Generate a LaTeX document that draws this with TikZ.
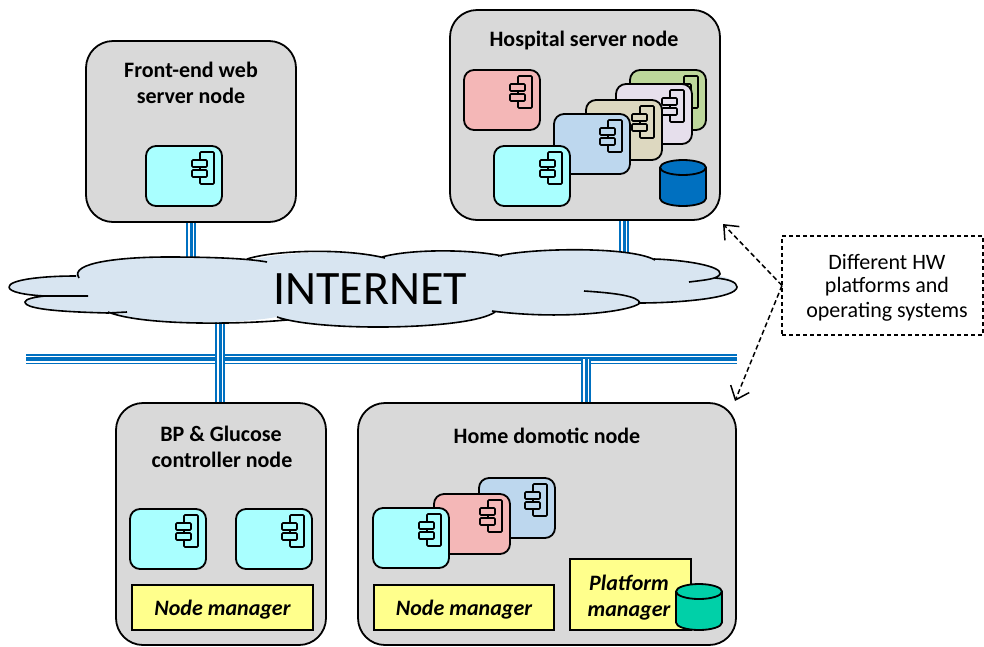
\documentclass[tikz,border=0pt]{standalone}
\usepackage{fontspec}
\setmainfont{Carlito}
\usetikzlibrary{arrows.meta}
\pgfdeclarelayer{edgelayer}
\pgfdeclarelayer{nodelayer}
\pgfsetlayers{edgelayer,nodelayer,main}
\definecolor{nodegray}{HTML}{D9D9D9}
\definecolor{compcyan}{HTML}{A9FFFF}
\definecolor{compred}{HTML}{F4B7B7}
\definecolor{compblue}{HTML}{BDD7EE}
\definecolor{comptan}{HTML}{DDD8C0}
\definecolor{complilac}{HTML}{E6DFEC}
\definecolor{compgreen}{HTML}{BDD79B}
\definecolor{cloudblue}{HTML}{D8E5F1}
\definecolor{wireblue}{HTML}{0070C0}
\definecolor{mgryellow}{HTML}{FFFF8C}
\definecolor{dbteal}{HTML}{00D0A8}
\tikzstyle{none}=[inner sep=0pt,outer sep=0pt]
\tikzstyle{title}=[none,font=\fontsize{22}{24}\selectfont\bfseries]
\tikzstyle{note}=[none,font=\fontsize{22}{24}\selectfont]
\tikzstyle{hwnode}=[anchor=north west,draw=black,fill=nodegray,line width=1.8pt,rounded corners=27pt,outer sep=0pt,inner sep=0pt]
\tikzstyle{comp}=[anchor=north west,draw=black,line width=1.8pt,rounded corners=10pt,minimum width=76pt,minimum height=60pt,outer sep=0pt,inner sep=0pt]
\tikzstyle{manager}=[anchor=north west,draw=black,fill=mgryellow,line width=1.8pt,outer sep=0pt,inner sep=0pt,text depth=0pt,font=\fontsize{22}{26}\selectfont\bfseries\itshape,align=center]
\tikzstyle{store}=[none,anchor=north west,minimum width=46pt,minimum height=46pt]
\tikzstyle{iconpart}=[draw=black,line width=1.6pt,rounded corners=1pt]
\tikzstyle{storepart}=[draw=black,line width=1.8pt]
\tikzstyle{buswire}=[draw=wireblue,line width=10.5pt,postaction={draw=white,line width=7pt},postaction={draw=wireblue,line width=4pt}]
\tikzstyle{linkwire}=[draw=wireblue,line width=10pt,postaction={draw=white,line width=6.5pt},postaction={draw=wireblue,line width=3pt}]
\tikzstyle{pointer}=[dash pattern=on 5pt off 3pt,draw=black,line width=1.5pt,-{Straight Barb[length=12pt,width=20pt,line width=1.5pt]}]
\newcommand{\compicon}[2]{
	\begin{scope}[shift={(#1.north west)}]
		\draw [style=iconpart, fill=#2] (54, 6) rectangle (68, 38);
		\draw [style=iconpart, fill=#2] (46, 14) rectangle (61, 21);
		\draw [style=iconpart, fill=#2] (46, 24) rectangle (61, 31);
	\end{scope}
}
\newcommand{\storeshape}[2]{
	\begin{scope}[shift={(#1.north west)}]
		\draw [style=storepart, fill=#2] (0, 7.5) -- (0, 38.5) arc[start angle=180, end angle=360, x radius=23pt, y radius=7.5pt] -- (46, 7.5) arc[start angle=0, end angle=180, x radius=23pt, y radius=7.5pt] -- cycle;
		\draw [style=storepart] (0, 7.5) arc[start angle=180, end angle=360, x radius=23pt, y radius=7.5pt];
	\end{scope}
}
\begin{document}
\begin{tikzpicture}[x=1pt,y=-1pt]
	\useasboundingbox (0, 0) rectangle (984, 646);
	\begin{pgfonlayer}{nodelayer}
		\node [style=hwnode, minimum width=210pt, minimum height=181pt] (front) at (86, 41) {};
		\node [style=hwnode, minimum width=270pt, minimum height=210pt] (hospital) at (450, 10) {};
		\node [style=hwnode, minimum width=210pt, minimum height=242pt] (bpnode) at (116, 403) {};
		\node [style=hwnode, minimum width=378pt, minimum height=242pt] (home) at (358, 403) {};
		\node [style=title] (fronta) at (191, 70) {Front-end web};
		\node [style=title] (frontb) at (191, 96) {server node};
		\node [style=title] (hosptitle) at (584, 41) {Hospital server node};
		\node [style=title] (bpa) at (221, 434) {BP \& Glucose};
		\node [style=title] (bpb) at (222, 460) {controller node};
		\node [style=title] (hometitle) at (547, 436) {Home domotic node};
		\node [style=comp, fill=compcyan] (frontcomp) at (146, 146) {};
		\compicon{frontcomp}{compcyan}
		\node [style=comp, fill=compred] (hospred) at (464, 70) {};
		\compicon{hospred}{compred}
		\node [style=comp, fill=compgreen] (hospgreen) at (630, 70) {};
		\compicon{hospgreen}{compgreen}
		\node [style=comp, fill=complilac] (hosplilac) at (616, 84) {};
		\compicon{hosplilac}{complilac}
		\node [style=comp, fill=comptan] (hosptan) at (586, 100) {};
		\compicon{hosptan}{comptan}
		\node [style=comp, fill=compblue] (hospblue) at (554, 114) {};
		\compicon{hospblue}{compblue}
		\node [style=comp, fill=compcyan] (hospcyan) at (494, 146) {};
		\compicon{hospcyan}{compcyan}
		\node [style=store] (hospdb) at (660, 160) {};
		\storeshape{hospdb}{wireblue}
		\node [style=comp, fill=compcyan] (bpleft) at (130, 509) {};
		\compicon{bpleft}{compcyan}
		\node [style=comp, fill=compcyan] (bpright) at (236, 509) {};
		\compicon{bpright}{compcyan}
		\node [style=manager, minimum width=181pt, minimum height=45pt] (bpmgr) at (132, 585) {Node manager};
		\node [style=comp, fill=compblue] (homeblue) at (479, 478) {};
		\compicon{homeblue}{compblue}
		\node [style=comp, fill=compred] (homered) at (434, 494) {};
		\compicon{homered}{compred}
		\node [style=comp, fill=compcyan] (homecyan) at (373, 508) {};
		\compicon{homecyan}{compcyan}
		\node [style=manager, minimum width=180pt, minimum height=45pt] (homemgr) at (374, 585) {Node manager};
		\node [style=manager, minimum width=121pt, minimum height=71pt] (platform) at (570, 559) {};
		\node [style=none, font=\fontsize{22}{26}\selectfont\bfseries\itshape, align=center] (platformtext) at (629, 598) {Platform\\manager};
		\node [style=store] (homedb) at (676, 584) {};
		\storeshape{homedb}{dbteal}
		% cloud
		\coordinate (cloudfront) at (192, 257);
		\coordinate (cloudhosp) at (624, 252);
		\coordinate (cloudbp) at (220, 322);
		\fill [cloudblue] (9, 287) .. controls (9, 280) and (40, 276) .. (76, 276) .. controls (72, 262) and (125, 257) .. (167, 257) .. controls (200, 257) and (235, 258) .. (252, 260) .. controls (275, 253) and (345, 248) .. (383, 257) .. controls (410, 249) and (470, 249) .. (500, 256) .. controls (530, 248) and (630, 246) .. (655, 260) .. controls (685, 260) and (722, 266) .. (720, 276) .. controls (730, 278) and (737, 282) .. (737, 287) .. controls (737, 298) and (680, 303) .. (638, 303) .. controls (630, 312) and (560, 320) .. (493, 312) .. controls (470, 330) and (320, 332) .. (277, 317) .. controls (230, 325) and (140, 325) .. (108, 312) .. controls (70, 312) and (25, 310) .. (25, 302) .. controls (25, 299) and (35, 297) .. (45, 296) .. controls (25, 295) and (9, 292) .. (9, 287) -- cycle;
		\draw [black, line width=1.6pt] (9, 287) .. controls (9, 280) and (40, 276) .. (76, 276) (79, 278) .. controls (68, 262) and (125, 257) .. (167, 257) .. controls (205, 257) and (245, 258) .. (267, 262) (247, 259) .. controls (275, 250) and (345, 248) .. (385, 258) (382, 257) .. controls (410, 249) and (470, 249) .. (502, 256) (498, 256) .. controls (530, 248) and (630, 246) .. (655, 260) (654, 259) .. controls (685, 260) and (722, 266) .. (720, 274) .. controls (718, 279) and (705, 280) .. (689, 282) (715, 278) .. controls (728, 279) and (737, 282) .. (737, 287) .. controls (737, 298) and (680, 303) .. (638, 303) (584, 291) .. controls (615, 293) and (638, 296) .. (640, 303) .. controls (630, 312) and (560, 320) .. (492, 311) (495, 312) .. controls (470, 330) and (320, 332) .. (277, 317) (287, 320) .. controls (230, 325) and (140, 325) .. (108, 312) (127, 312) -- (108, 313) .. controls (70, 312) and (25, 310) .. (25, 302) .. controls (25, 299) and (35, 297) .. (45, 296) .. controls (25, 295) and (9, 292) .. (9, 287) (45, 296) -- (88, 296);
		\node [style=none, font=\fontsize{48}{50}\selectfont] (internet) at (370, 289) {INTERNET};
		\node [style=none, draw=black, dash pattern=on 4pt off 3pt, line width=1.5pt, anchor=north west, minimum width=201pt, minimum height=99pt] (hwbox) at (782, 236) {};
		\node [style=note] (hwa) at (887, 262) {Different HW};
		\node [style=note] (hwb) at (887, 287) {platforms and};
		\node [style=note] (hwc) at (887, 312) {operating systems};
	\end{pgfonlayer}
	\begin{pgfonlayer}{edgelayer}
		\coordinate (busleft) at (26, 359);
		\coordinate (busright) at (737, 359);
		\draw [style=buswire] (busleft) -- (busright);
		\draw [style=linkwire] (front.south) -- (front.south |- cloudfront);
		\draw [style=linkwire] (hospital.south -| cloudhosp) -- (cloudhosp);
		\draw [style=linkwire] (cloudbp) -- (bpnode.north -| cloudbp);
		\coordinate (bushome) at (586, 359);
		\draw [style=linkwire] (bushome) -- (home.north -| bushome);
	\end{pgfonlayer}
	\coordinate (ptrhosp) at (723, 224);
	\coordinate (ptrhome) at (735, 401);
	\draw [style=pointer] (hwbox.west) -- (ptrhosp);
	\draw [style=pointer] (hwbox.west) -- (ptrhome);
\end{tikzpicture}
\end{document}
